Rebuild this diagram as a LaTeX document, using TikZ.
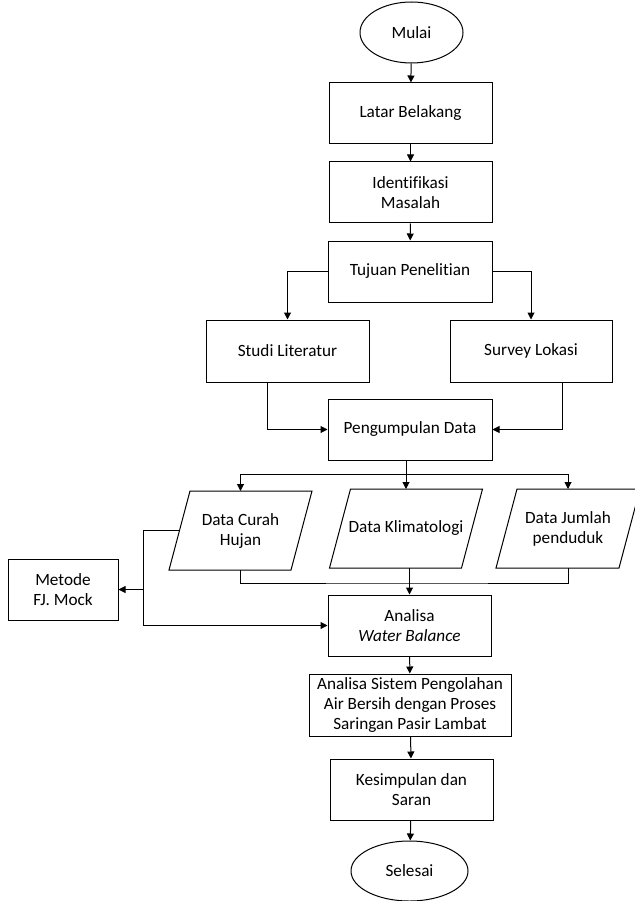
\documentclass[tikz,border=0pt]{standalone}
\usepackage{fontspec}
\setmainfont{Carlito}[Ligatures={NoCommon}]
\usetikzlibrary{shapes.geometric,arrows.meta}
\newcommand\drawpara[1]{\draw[line width=1pt,line join=miter]
  ([xshift=10.5pt]#1.north west) -- ([xshift=10.5pt]#1.north east) --
  ([xshift=-10.5pt]#1.south east) -- ([xshift=-10.5pt]#1.south west) -- cycle;}
\begin{document}
\begin{tikzpicture}[x=1pt,y=-1pt,
  base/.style={draw,line width=1pt,align=center,inner sep=2pt,font=\fontsize{17.2}{20}\selectfont},
  rbox/.style={base,rectangle,minimum width=#1,minimum height=61pt},
  oval/.style={base,ellipse,inner sep=0pt,minimum width=#1,minimum height=61pt},
  para/.style={base,draw=none,rectangle,outer sep=0pt,minimum width=#1,minimum height=79pt},
  arr/.style={-{Triangle[length=7pt,width=7pt]},line width=1pt},
  ln/.style={line width=1pt}]
\useasboundingbox (0,0) rectangle (634,901);

\node[oval=103pt] (mulai) at (411.5,32.5) {Mulai};
\node[rbox=163pt] (latar) at (410.5,113.5) {Latar Belakang};
\node[rbox=163pt] (ident) at (410.5,192.5) {Identifikasi\\Masalah};
\node[rbox=164pt] (tujuan) at (410,271.5) {Tujuan Penelitian};
\node[rbox=163pt,minimum height=62pt] (studi) at (287.5,351) {Studi Literatur};
\node[rbox=162pt,minimum height=62pt] (survey) at (531,351) {Survey Lokasi};
\node[rbox=164pt] (kumpul) at (410,429.5) {Pengumpulan Data};
\node[para=122pt] (curah) at (240.5,530.5) {Data Curah\\Hujan};
\node[para=132pt] (klima) at (406,528.5) {Data Klimatologi};
\node[para=123pt] (jumlah) at (568,528.5) {Data Jumlah\\penduduk};
\drawpara{curah}
\drawpara{klima}
\drawpara{jumlah}
\node[rbox=110pt] (metode) at (63,589.5) {Metode\\FJ. Mock};
\node[rbox=163pt] (analisa) at (409.5,625.5) {Analisa\\\textit{Water Balance}};
\node[rbox=202pt,minimum height=62pt,inner sep=1pt] (sistem) at (410,705) {Analisa Sistem Pengolahan\\Air Bersih dengan Proses\\Saringan Pasir Lambat};
\node[rbox=163pt] (simpul) at (411.5,789.5) {Kesimpulan dan\\Saran};
\node[oval=117pt,minimum height=60pt] (selesai) at (409.5,871) {Selesai};

\draw[arr] (mulai) -- (latar);
\draw[arr] (latar) -- (ident);
\draw[arr] (ident) -- (tujuan);
\draw[arr] (tujuan.west) -| (studi.north);
\draw[arr] (tujuan.east) -| (survey.north);
\draw[arr] ([xshift=-20.5pt]studi.south) |- (kumpul.west);
\draw[arr] ([xshift=31pt]survey.south) |- (kumpul.east);

\coordinate (bar) at (406,474);
\draw[ln] (kumpul.south -| bar) -- (bar);
\draw[ln] (curah.north |- bar) -- (jumlah.north |- bar);
\draw[arr] (curah.north |- bar) -- (curah.north);
\draw[arr] (bar) -- (klima.north);
\draw[arr] (jumlah.north |- bar) -- (jumlah.north);

\coordinate (low) at (409.5,583);
\draw[ln] (curah.south) |- (low) -| (jumlah.south);
\draw[arr] (klima.south -| analisa.north) -- (analisa.north);

\coordinate (j) at (143,589.5);
\draw[arr] (curah.west) -- (curah.west -| j) |- (analisa.west);
\draw[arr] (j) -- (metode.east);

\draw[arr] (analisa) -- (sistem);
\draw[arr] (sistem) -- (simpul);
\draw[arr] (simpul) -- (selesai);
\end{tikzpicture}
\end{document}
